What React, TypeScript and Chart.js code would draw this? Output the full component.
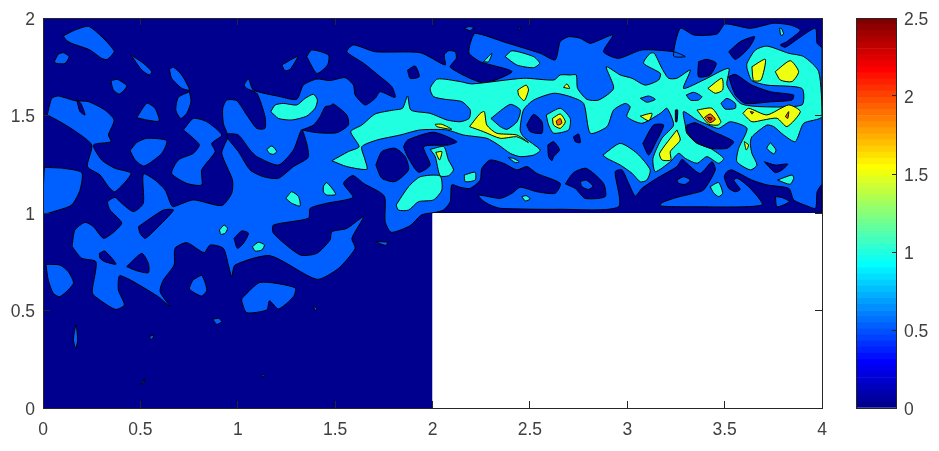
import React, { useEffect, useRef } from "react";
import { Chart, registerables } from "chart.js";

Chart.register(...registerables);

const NAVY = "#00008F";
const BLUE = "#0060FF";
const CYAN = "#20FFDF";
const YELLOW = "#EFFF10";
const ORANGE = "#FF6000";
const RED = "#E02000";

const xTicks = [0, 0.5, 1, 1.5, 2, 2.5, 3, 3.5, 4];
const yTicks = [0, 0.5, 1, 1.5, 2];
const colorTicks = [0, 0.5, 1, 1.5, 2, 2.5];

const domain = [0,0, 2,0, 2,1, 4,1, 4,2, 0,2];
const cutout = [2,0, 4,0, 4,1, 2,1];

const blueMain = [.151,.844, .164,.913, .216,.952, .259,.930, .313,.870, .404,.947, .344,1.015, .332,1.058, .370,1.080, .404,1.050, .464,1.007, .515,1.050, .515,1.200, .575,1.169, .627,1.118, .658,1.041, .670,1.032, .772,1.067, .918,1.038, .969,1.101, .973,1.169, .918,1.306, .947,1.383, .947,1.405, .926,1.460, .923,1.537, .943,1.579, .995,1.576, 1.046,1.503, 1.098,1.434, 1.140,1.434, 1.140,1.494, 1.098,1.614, 1.046,1.639, 1.033,1.656, 1.055,1.687, 1.080,1.631, 1.217,1.597, 1.303,1.583, 1.337,1.656, 1.406,1.687, 1.474,1.679, 1.551,1.694, 1.594,1.656, 1.603,1.605, 1.654,1.554, 1.706,1.588, 1.731,1.622, 1.808,1.593, 1.791,1.648, 1.731,1.699, 1.646,1.768, 1.560,1.827, 1.594,1.862, 1.706,1.827, 1.937,1.822, 2.065,1.759, 2.060,1.810, 2.082,1.832, 2.117,1.827, 2.122,1.793, 2.091,1.747, 2.262,1.668, 2.408,1.725, 2.245,1.776, 2.188,1.819, 2.194,1.870, 2.219,1.921, 2.373,1.875, 2.553,1.819, 2.630,1.785, 2.656,1.879, 2.699,1.904, 2.759,1.896, 2.810,1.870, 2.926,1.913, 2.878,1.827, 2.955,1.793, 3.075,1.836, 3.238,1.827, 3.298,1.802, 3.238,1.805, 3.272,1.947, 3.341,1.913, 3.461,1.918, 3.503,1.969, 3.632,1.947, 3.751,1.973, 3.837,1.964, 3.889,1.938, 3.820,1.879, 3.786,1.862, 3.812,1.850, 3.880,1.896, 3.966,1.947, 3.975,1.870, 4,1.844, 4,1, 2,1, 1.943,.990, 1.885,.935, 1.788,.901, 1.757,.956, 1.752,1.087, 1.646,1.152, 1.591,1.192, 1.543,1.152, 1.591,1.080, 1.457,1.050, 1.372,1.024, 1.363,.973, 1.183,.938, 1.183,.896, 1.320,.785, 1.406,.793, 1.474,.862, 1.483,.904, 1.560,.921, 1.646,.981, 1.586,.870, 1.603,.819, 1.517,.716, 1.406,.660, 1.166,.781, .986,.733, .969,.674, .952,.733, .926,.819, .858,.836, .827,.797, .738,.848, .678,.819, .673,.733, .618,.656, .601,.597, .652,.520, .592,.571, .396,.679, .387,.605, .418,.528, .370,.506, .259,.579, .253,.605, .272,.750, .199,.768, .151,.827];

const blueBlobs = [
  [.104,1.908, .164,1.938, .238,1.956, .365,1.832, .330,1.788, .301,1.793, .241,1.836, .147,1.870, .122,1.884],
  [.058,1.776, .079,1.814, .104,1.822, .134,1.802, .113,1.767, .070,1.767],
  [.452,1.810, .515,1.768, .558,1.725, .546,1.708, .507,1.733],
  [.349,1.678, .382,1.685, .430,1.651, .392,1.610, .361,1.631],
  [.649,1.737, .670,1.747, .712,1.708, .752,1.631, .712,1.640, .661,1.690],
  [.752,1.622, .760,1.571, .738,1.511, .707,1.485, .682,1.528, .695,1.593],
  [.481,1.489, .533,1.562, .575,1.537, .596,1.472, .533,1.477],
  [.447,1.320, .481,1.361, .533,1.383, .635,1.371, .610,1.306, .519,1.241, .473,1.272],
  [1.226,1.759, 1.307,1.802, 1.269,1.737, 1.243,1.730],
  [1.354,1.802, 1.380,1.836, 1.466,1.810, 1.461,1.759, 1.406,1.716],
  [.022,1.503, .045,1.588, .079,1.600, .164,1.576, .233,1.571, .318,1.528, .365,1.477, .336,1.400, .349,1.366, .259,1.349, .301,1.272, .370,1.229, .452,1.203, .370,1.109, .336,1.135, .293,1.195, .228,1.238, .250,1.349, .156,1.426, .087,1.468],
  [.007,1.234, .104,1.229, .199,1.207, .190,1.118, .147,1.041, .053,1.007, .002,.998, 0,1.083],
  [.721,1.426, .772,1.485, .841,1.468, .918,1.400, .866,1.357, .884,1.315, .815,1.221, .815,1.144, .738,1.152, .661,1.203, .695,1.272, .772,1.306, .803,1.349, .772,1.383],
  [.015,.737, .087,.733, .130,.699, .156,.639, .087,.571, .053,.588, .027,.656],
  [.769,.656, .815,.679, .841,.605, .815,.574, .752,.610],
  [1.021,.562, 1.115,.644, 1.295,.617, 1.286,.571, 1.209,.508, 1.163,.550, 1.149,.503, 1.046,.489, 1.021,.545],
  [.872,.455, .901,.460, .918,.443, .892,.429],
  [.545,.366, .570,.374, .558,.352],
  [.161,.391, .170,.426, .178,.349, .168,.306, .156,.349],
  [.503,.121, .524,.152, .515,.127],
  [1.123,.173, 1.140,.166, 1.127,.161],
  [1.389,.520, 1.406,.511, 1.397,.499],
  [1.711,.853, 1.769,.850, 1.762,.834, 1.735,.841],
  [2.163,1.947, 2.185,1.956, 2.211,1.952, 2.194,1.935],
  [2.442,1.947, 2.454,1.952, 2.447,1.938],
];

const navyHoles = [
  [.173,1.580, .194,1.563, .216,1.503, .190,1.520],
  [.289,.793, .318,.805, .375,.738, .318,.750, .293,.768],
  [.430,.725, .507,.793, .541,.742, .541,.694, .481,.704],
  [.490,.930, .618,1.015, .670,1.015, .575,.913, .524,.870, .498,.896],
  [.981,.870, 1.021,.908, 1.055,.896, 1.029,.844, .998,.819],
  [1.329,1.426, 1.389,1.451, 1.423,1.494, 1.449,1.545, 1.474,1.550, 1.491,1.559, 1.560,1.503, 1.568,1.451, 1.509,1.412, 1.406,1.412],
  [.947,1.383, 1.003,1.315, 1.063,1.221, 1.132,1.186, 1.209,1.178, 1.286,1.238, 1.363,1.289, 1.329,1.426, 1.286,1.323, 1.209,1.246, 1.098,1.289, 1.063,1.323, 1.003,1.400, .947,1.405],
  [1.872,1.733, 1.911,1.754, 1.932,1.699, 1.885,1.691],
  [2.682,1.149, 2.724,1.207, 2.789,1.229, 2.878,1.152, 2.887,1.084, 2.784,1.075, 2.733,1.126],
  [2.592,1.349, 2.622,1.366, 2.652,1.323, 2.622,1.289, 2.613,1.268, 2.596,1.289],
  [2.724,1.391, 2.750,1.405, 2.759,1.361, 2.733,1.366],
  [3.704,1.263, 3.760,1.246, 3.824,1.251, 3.795,1.221, 3.760,1.207, 3.726,1.238],
  [3.366,1.776, 3.409,1.788, 3.457,1.768, 3.426,1.708, 3.366,1.699],
  [3.521,1.827, 3.581,1.879, 3.654,1.904, 3.623,1.845, 3.555,1.788],
];

const navyBand = [2,1, 2.056,1.015, 2.091,1.058, 2.099,1.144, 2.142,1.132, 2.193,1.126, 2.245,1.169, 2.253,1.229, 2.296,1.272, 2.365,1.255, 2.433,1.221, 2.485,1.238, 2.536,1.203, 2.656,1.152, 2.630,1.101, 2.536,1.109, 2.450,1.132, 2.408,1.101, 2.348,1.075, 2.236,1.092, 2.254,1.067, 2.296,1.041, 2.348,1.024, 2.656,1.019, 2.955,1.032, 2.938,1.212, 2.973,1.221, 3.007,1.152, 3.041,1.087, 3.075,1.126, 3.152,1.178, 3.255,1.238, 3.281,1.275, 3.315,1.246, 3.375,1.203, 3.435,1.263, 3.452,1.221, 3.392,1.118, 3.341,1.101, 3.255,1.080, 3.178,1.053, 3.170,1.036, 3.341,1.032, 3.692,1.041, 3.632,1.126, 3.567,1.178, 3.546,1.169, 3.580,1.121, 3.555,1.109, 3.521,1.127, 3.498,1.186, 3.512,1.212, 3.538,1.221, 3.640,1.169, 3.718,1.144, 3.830,1.126, 3.855,1.067, 3.924,1.036, 3.967,1.024, 3.975,1.109, 4,1.144, 4,1];

const blueInBand = [
  [2.759,1.161, 2.789,1.169, 2.824,1.138, 2.801,1.121, 2.767,1.135],
  [3.255,1.169, 3.289,1.186, 3.324,1.169, 3.298,1.147, 3.264,1.152],
  [3.761,1.084, 3.795,1.079, 3.832,1.058, 3.769,1.032],
];

const cyanMain = [1.483,1.268, 1.568,1.315, 1.623,1.340, 1.580,1.417, 1.637,1.451, 1.706,1.508, 1.800,1.528, 1.846,1.537, 1.872,1.600, 1.889,1.528, 1.988,1.511, 2.074,1.477, 2.142,1.468, 2.188,1.485, 2.194,1.528, 2.151,1.571, 2.065,1.583, 2.005,1.597, 1.988,1.639, 2.026,1.687, 2.142,1.674, 2.202,1.662, 2.467,1.691, 2.623,1.682, 2.656,1.708, 2.707,1.708, 2.738,1.708, 2.745,1.639, 2.793,1.583, 2.853,1.579, 2.930,1.639, 2.892,1.750, 2.964,1.708, 3.024,1.691, 3.092,1.656, 3.161,1.682, 3.170,1.716, 3.084,1.768, 3.118,1.819, 3.139,1.819, 3.178,1.742, 3.212,1.691, 3.255,1.691, 3.324,1.733, 3.289,1.639, 3.392,1.682, 3.521,1.742, 3.512,1.656, 3.581,1.562, 3.692,1.545, 3.897,1.554, 3.897,1.639, 3.717,1.656, 3.640,1.679, 3.615,1.742, 3.615,1.768, 3.658,1.836, 3.717,1.856, 3.829,1.819, 3.906,1.802, 3.983,1.725, 4,1.494, 3.906,1.460, 3.863,1.366, 3.803,1.400, 3.752,1.443, 3.717,1.451, 3.640,1.391, 3.632,1.357, 3.640,1.306, 3.666,1.246, 3.632,1.221, 3.563,1.263, 3.572,1.332, 3.615,1.434, 3.529,1.468, 3.469,1.434, 3.418,1.451, 3.358,1.477, 3.289,1.520, 3.298,1.451, 3.306,1.409, 3.358,1.357, 3.426,1.332, 3.495,1.280, 3.469,1.255, 3.409,1.289, 3.358,1.255, 3.298,1.280, 3.264,1.306, 3.221,1.263, 3.144,1.212, 3.132,1.280, 3.178,1.383, 3.238,1.451, 3.204,1.537, 3.170,1.511, 3.075,1.460, 2.998,1.494, 3.015,1.545, 2.990,1.562, 2.930,1.528, 2.896,1.443, 2.810,1.409, 2.776,1.562, 2.707,1.597, 2.622,1.614, 2.519,1.579, 2.467,1.528, 2.450,1.426, 2.467,1.391, 2.553,1.323, 2.519,1.297, 2.450,1.289, 2.399,1.306, 2.339,1.349, 2.279,1.383, 2.159,1.400, 2.074,1.426, 1.937,1.426, 1.834,1.400, 1.714,1.374, 1.637,1.340, 1.654,1.272, 1.663,1.224, 1.560,1.238];

const cyanBlobs = [
  [.906,.913, .930,.938, .947,.921, .935,.896, .913,.891],
  [1.075,.827, 1.106,.850, 1.137,.836, 1.123,.810, 1.089,.805],
  [1.149,1.326, 1.175,1.344, 1.200,1.315, 1.183,1.301, 1.163,1.306],
  [1.247,1.075, 1.277,1.109, 1.312,1.084, 1.320,1.036, 1.277,1.050],
  [1.440,1.138, 1.457,1.156, 1.503,1.096, 1.457,1.092, 1.440,1.108],
  [1.170,1.520, 1.192,1.554, 1.235,1.562, 1.303,1.554, 1.346,1.588, 1.389,1.609, 1.409,1.579, 1.397,1.537, 1.354,1.497, 1.277,1.477, 1.209,1.485],
  [1.813,1.041, 1.877,1.135, 1.937,1.186, 2.039,1.190, 2.048,1.118, 2.005,1.067, 1.928,1.058, 1.877,1.015, 1.825,1.015],
  [1.988,1.326, 2.058,1.340, 2.082,1.272, 2.108,1.221, 2.082,1.191, 2.039,1.191, 2.014,1.289],
  [2.163,1.195, 2.219,1.209, 2.219,1.169, 2.168,1.161],
  [2.262,1.776, 2.305,1.819, 2.288,1.776],
  [2.373,1.802, 2.408,1.832, 2.519,1.802, 2.550,1.768, 2.519,1.745, 2.433,1.759],
  [2.390,1.284, 2.416,1.280, 2.445,1.263, 2.425,1.258],
  [2.459,1.084, 2.481,1.089, 2.502,1.072, 2.476,1.062],
  [3.426,1.135, 3.469,1.156, 3.490,1.101, 3.469,1.084, 3.443,1.104],
  [3.772,1.169, 3.846,1.195, 3.855,1.178, 3.836,1.147],
  [2.875,1.297, 2.964,1.357, 3.050,1.306, 3.118,1.221, 3.101,1.169, 3.067,1.160, 3.024,1.204, 2.964,1.246, 2.896,1.280],
  [3.735,1.361, 3.764,1.323, 3.752,1.303, 3.717,1.332],
  [3.782,1.947, 3.791,1.947, 3.803,1.918, 3.789,1.911],
];

const blueInCyan = [
  [2.300,1.485, 2.399,1.557, 2.451,1.528, 2.434,1.468, 2.382,1.429, 2.348,1.443],
  [3.067,1.588, 3.110,1.600, 3.144,1.583, 3.101,1.568],
  [3.303,1.605, 3.341,1.619, 3.383,1.597, 3.366,1.579, 3.324,1.579],
  [3.481,1.562, 3.512,1.588, 3.555,1.562, 3.555,1.537, 3.503,1.533],
];

const navyInCyan = [
  [1.851,1.340, 1.872,1.374, 2.005,1.414, 2.125,1.366, 2.082,1.349, 1.955,1.340, 1.988,1.246, 1.928,1.209, 1.872,1.289],
  [1.709,1.246, 1.740,1.315, 1.808,1.332, 1.860,1.289, 1.877,1.221, 1.808,1.161, 1.740,1.178],
  [2.484,1.451, 2.519,1.506, 2.562,1.468, 2.562,1.409, 2.502,1.417],
  [3.520,1.699, 3.555,1.711, 3.640,1.656, 3.735,1.622, 3.854,1.605, 3.846,1.579, 3.735,1.570, 3.606,1.562, 3.555,1.605],
  [3.306,1.451, 3.349,1.463, 3.443,1.417, 3.546,1.366, 3.512,1.332, 3.426,1.332, 3.349,1.366, 3.306,1.417],
  [3.080,1.357, 3.135,1.451, 3.187,1.451, 3.144,1.357, 3.110,1.297],
  [3.247,1.528, 3.259,1.528, 3.255,1.468, 3.248,1.468],
];

const cyanRing = [2.584,1.503, 2.656,1.537, 2.707,1.485, 2.699,1.426, 2.622,1.409, 2.596,1.451];

const yellowBlobs = [
  [2.190,1.443, 2.245,1.511, 2.266,1.520, 2.279,1.451, 2.330,1.409, 2.433,1.400, 2.493,1.361, 2.433,1.391, 2.348,1.383, 2.262,1.417],
  [2.014,1.455, 2.048,1.455, 2.099,1.429, 2.022,1.443],
  [2.438,1.631, 2.481,1.656, 2.493,1.631, 2.471,1.576, 2.442,1.605],
  [2.673,1.644, 2.690,1.662, 2.704,1.639],
  [2.017,1.311, 2.048,1.315, 2.036,1.272],
  [2.616,1.485, 2.656,1.508, 2.682,1.468, 2.656,1.434, 2.622,1.451],
  [3.358,1.528, 3.435,1.537, 3.481,1.468, 3.466,1.451, 3.418,1.456],
  [3.414,1.639, 3.486,1.691, 3.490,1.631, 3.452,1.614],
  [3.067,1.497, 3.127,1.511, 3.110,1.473],
  [3.255,1.426, 3.272,1.374, 3.221,1.315, 3.224,1.272, 3.178,1.272, 3.166,1.306],
  [3.640,1.750, 3.709,1.788, 3.687,1.682, 3.649,1.679],
  [3.760,1.725, 3.837,1.781, 3.880,1.725, 3.846,1.674, 3.786,1.682],
  [3.594,1.511, 3.623,1.537, 3.717,1.503, 3.829,1.554, 3.889,1.520, 3.820,1.443, 3.769,1.486, 3.700,1.477, 3.640,1.468],
  [3.601,1.366, 3.623,1.349, 3.611,1.323],
];

const orangeBlobs = [
  [2.635,1.471, 2.656,1.485, 2.664,1.460, 2.642,1.451],
  [3.397,1.491, 3.426,1.508, 3.452,1.480, 3.423,1.463],
  [3.812,1.494, 3.829,1.520, 3.824,1.485],
  [3.632,1.520, 3.649,1.516, 3.640,1.508],
];

const redBlobs = [
  [3.413,1.491, 3.435,1.486, 3.426,1.474],
];

const colorbarColors = ["#00008F","#00009F","#0000AF","#0000BF","#0000CF","#0000DF","#0000EF","#0000FF","#0010FF","#0020FF","#0030FF","#0040FF","#0050FF","#0060FF","#0070FF","#0080FF","#008FFF","#009FFF","#00AFFF","#00BFFF","#00CFFF","#00DFFF","#00EFFF","#00FFFF","#10FFEF","#20FFDF","#30FFCF","#40FFBF","#50FFAF","#60FF9F","#70FF8F","#80FF80","#8FFF70","#9FFF60","#AFFF50","#BFFF40","#CFFF30","#DFFF20","#EFFF10","#FFFF00","#FFEF00","#FFDF00","#FFCF00","#FFBF00","#FFAF00","#FF9F00","#FF8F00","#FF8000","#FF7000","#FF6000","#FF5000","#FF4000","#FF3000","#FF2000","#FF1000","#FF0000","#EF0000","#DF0000","#CF0000","#BF0000","#AF0000","#9F0000","#8F0000","#800000"];

const FONT = { family: "'Liberation Sans', Arial, sans-serif", size: 17.5 };
const TEXT = "#404040";
const AXIS = "#262626";

function toPoints(flat: number[], close = true) {
  const out: { x: number; y: number }[] = [];
  for (let i = 0; i < flat.length; i += 2) out.push({ x: flat[i], y: flat[i + 1] });
  if (close) out.push({ x: flat[0], y: flat[1] });
  return out;
}

function layerDatasets() {
  const layers: [number[], string, boolean][] = [];
  const add = (list: number[][], color: string) => list.forEach((p) => layers.push([p, color, true]));
  layers.push([domain, NAVY, false]);
  layers.push([blueMain, BLUE, true]);
  add(blueBlobs, BLUE);
  add(navyHoles, NAVY);
  layers.push([navyBand, NAVY, true]);
  add(blueInBand, BLUE);
  layers.push([cyanMain, CYAN, true]);
  add(cyanBlobs, CYAN);
  add(blueInCyan, BLUE);
  add(navyInCyan, NAVY);
  layers.push([cyanRing, CYAN, true]);
  add(yellowBlobs, YELLOW);
  add(orangeBlobs, ORANGE);
  add(redBlobs, RED);
  const ds = layers.map(([flat, color, line], i) => ({
    data: toPoints(flat),
    showLine: true,
    fill: "shape",
    backgroundColor: color,
    borderColor: line ? "#000000" : color,
    borderWidth: line ? 1 : 0,
    pointRadius: 0,
    tension: line ? 0.22 : 0,
    order: layers.length + 1 - i,
  }));
  ds.push({
    data: toPoints(cutout),
    showLine: true,
    fill: "shape",
    backgroundColor: "#FFFFFF",
    borderColor: "#FFFFFF",
    borderWidth: 0,
    pointRadius: 0,
    tension: 0,
    order: 0,
  });
  return ds;
}

function clearPadding(s: any) {
  s.paddingTop = 0;
  s.paddingBottom = 0;
  s.paddingLeft = 0;
  s.paddingRight = 0;
}

function frameAxis(position: string, max: number, step: number, size: number, showLabels: boolean, values: number[], padding: number) {
  const vertical = position === "left" || position === "right";
  return {
    type: "linear",
    position,
    min: 0,
    max,
    afterBuildTicks: (s: any) => { s.ticks = values.map((value) => ({ value })); },
    afterFit: (s: any) => {
      if (vertical) s.width = size; else s.height = size;
      clearPadding(s);
    },
    border: { display: true, color: AXIS, width: 1, z: 2 },
    grid: { drawOnChartArea: false, drawTicks: true, tickLength: -7, color: AXIS, lineWidth: 1, z: 2 },
    ticks: { display: showLabels, stepSize: step, color: TEXT, font: FONT, padding, labelOffset: vertical ? 2 : 0, maxRotation: 0, autoSkip: false, callback: (v: any) => String(v) },
  };
}

export default function App() {
  const mainRef = useRef<HTMLCanvasElement>(null);
  const barRef = useRef<HTMLCanvasElement>(null);

  useEffect(() => {
    const main = new Chart(mainRef.current as any, {
      type: "scatter",
      data: { datasets: layerDatasets() as any },
      options: {
        animation: false,
        responsive: false,
        layout: { padding: 0, autoPadding: false },
        plugins: { legend: { display: false }, tooltip: { enabled: false }, title: { display: false } },
        scales: {
          x: frameAxis("bottom", 4, 0.5, 43, true, xTicks, 19),
          y: frameAxis("left", 2, 0.5, 43, true, yTicks, 15),
          x2: frameAxis("top", 4, 0.5, 18, false, xTicks, 0),
          y2: frameAxis("right", 2, 0.5, 117, false, yTicks, 0),
        } as any,
      },
    });

    const step = 2.5 / colorbarColors.length;
    const bar = new Chart(barRef.current as any, {
      type: "bar",
      data: {
        labels: [""],
        datasets: colorbarColors.map((c, i) => ({
          data: [[i * step, (i + 1) * step]],
          backgroundColor: c,
          borderWidth: 0,
          barPercentage: 1,
          categoryPercentage: 1,
          grouped: false,
        })) as any,
      },
      options: {
        animation: false,
        responsive: false,
        layout: { padding: { left: 856, top: 18 }, autoPadding: false },
        plugins: { legend: { display: false }, tooltip: { enabled: false }, title: { display: false } },
        scales: {
          x: {
            position: "bottom",
            afterFit: (s: any) => { s.height = 43; clearPadding(s); },
            border: { display: true, color: AXIS, width: 1, z: 2 },
            grid: { display: false },
            ticks: { display: false },
          },
          xTop: {
            type: "category",
            labels: [""],
            position: "top",
            afterFit: (s: any) => { s.height = 0; clearPadding(s); },
            border: { display: true, color: AXIS, width: 1, z: 2 },
            grid: { display: false },
            ticks: { display: false },
          },
          y: {
            ...frameAxis("right", 2.5, 0.5, 43, true, colorTicks, 12),
            grid: { drawOnChartArea: false, drawTicks: true, tickLength: -4, color: AXIS, lineWidth: 1, z: 2 },
          },
          yLeft: {
            type: "linear",
            position: "left",
            min: 0,
            max: 2.5,
            afterFit: (s: any) => { s.width = 0; clearPadding(s); },
            border: { display: true, color: AXIS, width: 1, z: 2 },
            grid: { display: false },
            ticks: { display: false },
          },
        } as any,
      },
    });

    return () => {
      main.destroy();
      bar.destroy();
    };
  }, []);

  const style: React.CSSProperties = { position: "absolute", left: 0, top: 0, width: 939, height: 451, display: "block" };
  return (
    <div style={{ position: "absolute", left: 0, top: 0, width: 939, height: 451, overflow: "hidden", background: "#fff" }}>
      <canvas ref={mainRef} width={939} height={451} style={style} />
      <canvas ref={barRef} width={939} height={451} style={style} />
    </div>
  );
}
